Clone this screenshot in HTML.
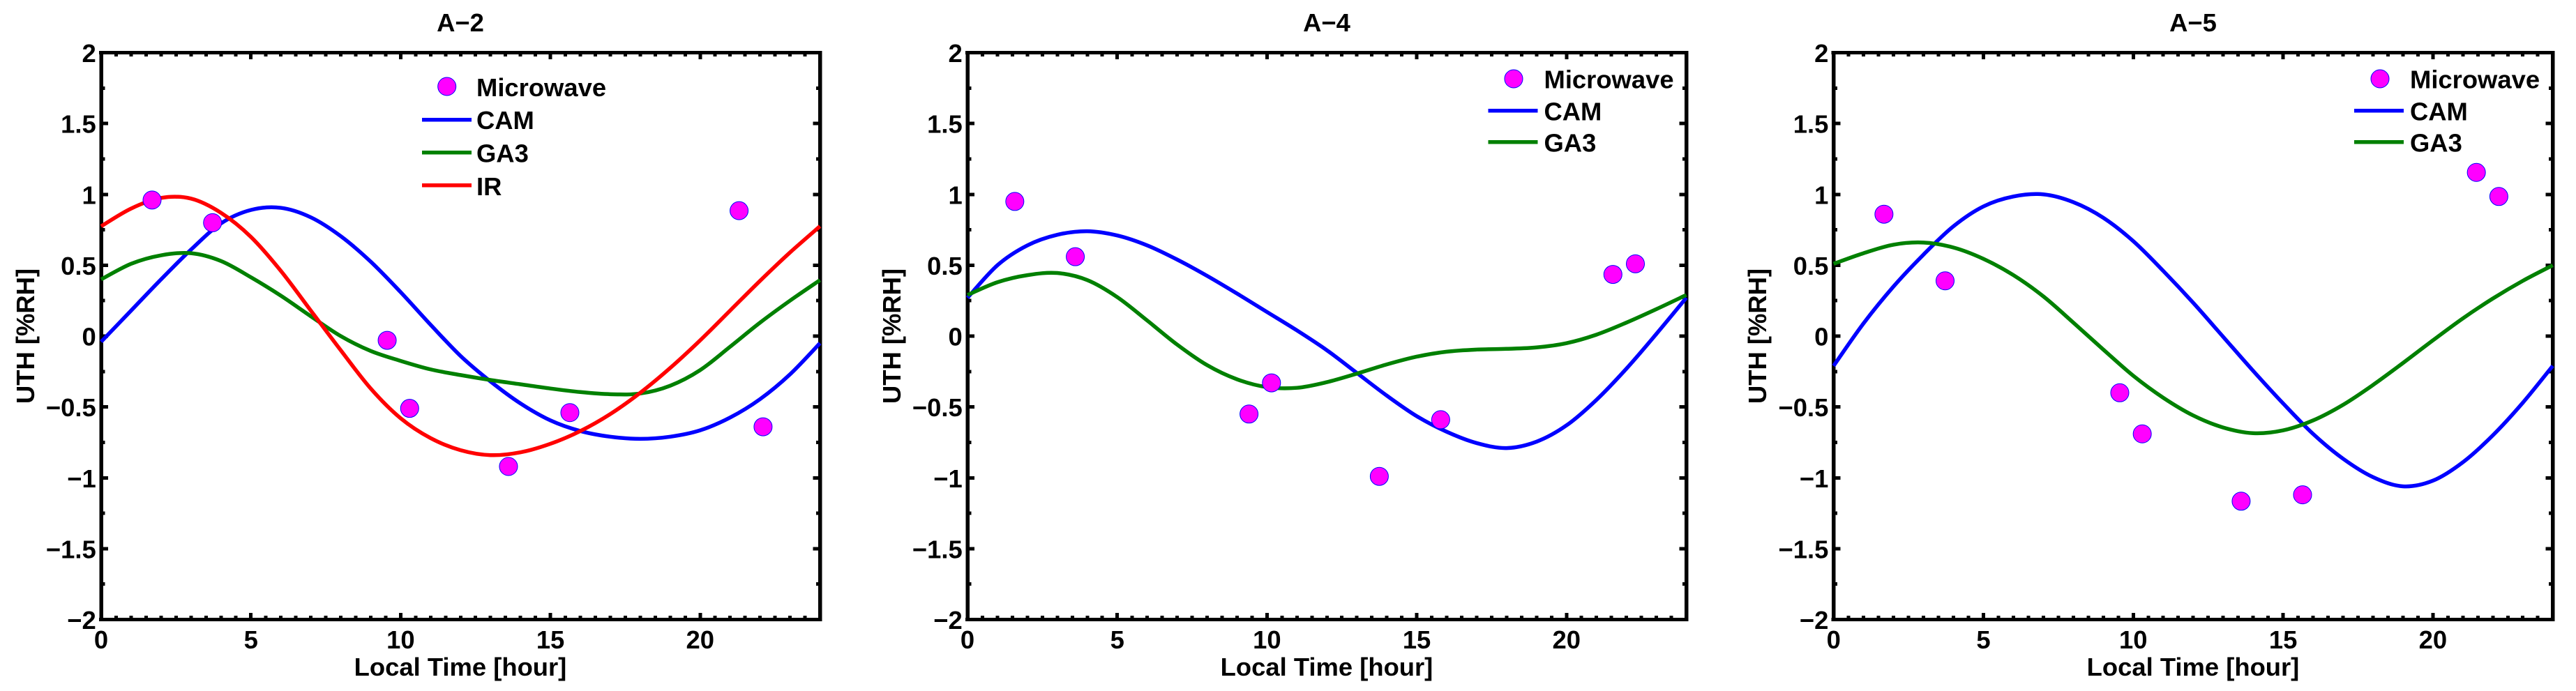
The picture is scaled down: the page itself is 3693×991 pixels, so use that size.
<!DOCTYPE html>
<html lang="en">
<head>
<meta charset="utf-8">
<title>UTH diurnal cycle: A-2, A-4, A-5</title>
<style>
html,body{margin:0;padding:0;background:#fff;}
body{width:3693px;height:991px;overflow:hidden;}
svg{display:block;}
text{font-family:"Liberation Sans",Arial,sans-serif;font-weight:bold;font-size:36.4px;fill:#000;}
.mid{text-anchor:middle;}
.end{text-anchor:end;}
</style>
</head>
<body>
<svg id="figure" xmlns="http://www.w3.org/2000/svg" width="3693" height="991" viewBox="0 0 3693 991">
  <rect x="0" y="0" width="3693" height="991" fill="#fff"/>

  <g id="panel-a2">
    <text class="mid" x="660" y="45">A−2</text>
    <text class="mid" x="660" y="969">Local Time [hour]</text>
    <text class="mid" transform="translate(49 482) rotate(-90)">UTH [%RH]</text>
    <g class="marks"></g>
    <g>
      <circle cx="640.7" cy="124" r="13" fill="#ff00ff" stroke="#0000ff" stroke-width="1"/>
      <text x="683" y="138">Microwave</text>
      <rect x="605" y="169" width="71" height="5.5" fill="#0000ff"/>
      <text x="683" y="185">CAM</text>
      <rect x="605" y="216" width="71" height="5.5" fill="#008000"/>
      <text x="683" y="232.5">GA3</text>
      <rect x="605" y="263" width="71" height="5.5" fill="#ff0000"/>
      <text x="683" y="280">IR</text>
    </g>
  </g>

  <g id="panel-a4">
    <text class="mid" x="1902" y="45">A−4</text>
    <text class="mid" x="1902" y="969">Local Time [hour]</text>
    <text class="mid" transform="translate(1291 482) rotate(-90)">UTH [%RH]</text>
    <g class="marks"></g>
    <g>
      <circle cx="2170" cy="113" r="13" fill="#ff00ff" stroke="#0000ff" stroke-width="1"/>
      <text x="2213.5" y="126.7">Microwave</text>
      <rect x="2133.5" y="156" width="71" height="5.5" fill="#0000ff"/>
      <text x="2213.5" y="172.3">CAM</text>
      <rect x="2133.5" y="201" width="71" height="5.5" fill="#008000"/>
      <text x="2213.5" y="217.3">GA3</text>
    </g>
  </g>

  <g id="panel-a5">
    <text class="mid" x="3144" y="45">A−5</text>
    <text class="mid" x="3144" y="969">Local Time [hour]</text>
    <text class="mid" transform="translate(2532 482) rotate(-90)">UTH [%RH]</text>
    <g class="marks"></g>
    <g>
      <circle cx="3412" cy="113" r="13" fill="#ff00ff" stroke="#0000ff" stroke-width="1"/>
      <text x="3455" y="126.7">Microwave</text>
      <rect x="3375" y="156" width="71" height="5.5" fill="#0000ff"/>
      <text x="3455" y="172.3">CAM</text>
      <rect x="3375" y="201" width="71" height="5.5" fill="#008000"/>
      <text x="3455" y="217.3">GA3</text>
    </g>
  </g>
</svg>

<script>
// Axis values and labels
const yTickValues = [-2, -1.5, -1, -0.5, 0, 0.5, 1, 1.5, 2];
const yTickLabels = ['−2', '−1.5', '−1', '−0.5', '0', '0.5', '1', '1.5', '2'];
const xTickValues = [0, 5, 10, 15, 20];
const xTickLabels = ['0', '5', '10', '15', '20'];

// Shared sample hours for the curves
const hours = [0,1,2,3,4,5,6,7,8,9,10,11,12,13,14,15,16,17,18,19,20,21,22,23,24];

// A-2
const a2Cam = [-0.04,0.18,0.40,0.61,0.795,0.89,0.905,0.838,0.705,0.525,0.31,0.08,-0.14,-0.32,-0.475,-0.595,-0.67,-0.71,-0.725,-0.71,-0.665,-0.575,-0.445,-0.27,-0.05];
const a2Ga3 = [0.40,0.51,0.57,0.585,0.53,0.415,0.285,0.14,0.0,-0.105,-0.175,-0.235,-0.275,-0.31,-0.34,-0.37,-0.395,-0.41,-0.405,-0.35,-0.24,-0.075,0.095,0.25,0.395];
const a2Ir = [0.775,0.90,0.975,0.97,0.87,0.70,0.46,0.18,-0.10,-0.37,-0.58,-0.72,-0.805,-0.84,-0.82,-0.76,-0.67,-0.55,-0.40,-0.225,-0.03,0.18,0.39,0.59,0.775];
const a2MwHours = [1.7,3.72,9.55,10.3,13.6,15.65,21.3,22.1];
const a2MwValues = [0.96,0.80,-0.03,-0.51,-0.92,-0.54,0.885,-0.64];

// A-4
const a4Cam = [0.27,0.50,0.64,0.715,0.74,0.71,0.64,0.54,0.425,0.30,0.17,0.04,-0.10,-0.26,-0.42,-0.565,-0.675,-0.755,-0.79,-0.745,-0.63,-0.45,-0.23,0.015,0.27];
const a4Ga3 = [0.29,0.38,0.43,0.445,0.395,0.275,0.11,-0.06,-0.205,-0.305,-0.36,-0.365,-0.325,-0.265,-0.20,-0.145,-0.11,-0.095,-0.09,-0.08,-0.05,0.01,0.095,0.19,0.29];
const a4MwHours = [1.58,3.6,9.4,10.15,13.75,15.8,21.55,22.3];
const a4MwValues = [0.95,0.56,-0.55,-0.33,-0.99,-0.59,0.435,0.51];

// A-5
const a5Cam = [-0.21,0.09,0.35,0.575,0.775,0.915,0.985,1.0,0.945,0.835,0.67,0.46,0.235,-0.005,-0.245,-0.475,-0.69,-0.865,-0.995,-1.06,-1.02,-0.89,-0.70,-0.47,-0.21];
const a5Ga3 = [0.51,0.585,0.645,0.66,0.625,0.545,0.43,0.28,0.095,-0.095,-0.28,-0.435,-0.56,-0.645,-0.685,-0.665,-0.595,-0.485,-0.345,-0.19,-0.03,0.125,0.265,0.39,0.50];
const a5MwHours = [1.68,3.72,9.55,10.3,13.6,15.65,21.45,22.2];
const a5MwValues = [0.86,0.39,-0.40,-0.69,-1.165,-1.12,1.155,0.985];

const SVG_NS = 'http://www.w3.org/2000/svg';
const PLOT_TOP = 75.5;
const PLOT_BOTTOM = 888.5;
const X_MAX = 24;
const Y_MIN = -2;
const Y_MAX = 2;

function yScale(v) {
  return PLOT_BOTTOM - (v - Y_MIN) / (Y_MAX - Y_MIN) * (PLOT_BOTTOM - PLOT_TOP);
}

function smoothPath(px, py) {
  let d = 'M' + px[0].toFixed(2) + ' ' + py[0].toFixed(2);
  for (let i = 0; i < px.length - 1; i++) {
    const i0 = Math.max(i - 1, 0);
    const i3 = Math.min(i + 2, px.length - 1);
    const c1x = px[i] + (px[i + 1] - px[i0]) / 6;
    const c1y = py[i] + (py[i + 1] - py[i0]) / 6;
    const c2x = px[i + 1] - (px[i3] - px[i]) / 6;
    const c2y = py[i + 1] - (py[i3] - py[i]) / 6;
    d += 'C' + c1x.toFixed(2) + ' ' + c1y.toFixed(2) + ' ' + c2x.toFixed(2) + ' ' + c2y.toFixed(2) + ' ' + px[i + 1].toFixed(2) + ' ' + py[i + 1].toFixed(2);
  }
  return d;
}

function addTick(parent, x1, y1, x2, y2, name) {
  const t = document.createElementNS(SVG_NS, 'line');
  t.setAttribute('x1', x1);
  t.setAttribute('y1', y1);
  t.setAttribute('x2', x2);
  t.setAttribute('y2', y2);
  t.setAttribute('stroke', '#000');
  t.setAttribute('stroke-width', '5');
  t.setAttribute('shape-rendering', 'crispEdges');
  
  
  parent.appendChild(t);
}

function addLabel(parent, x, y, str, cls, name) {
  const t = document.createElementNS(SVG_NS, 'text');
  t.setAttribute('x', x);
  t.setAttribute('y', y);
  t.setAttribute('class', cls);
  
  
  t.textContent = str;
  parent.appendChild(t);
}

function drawPanel(id, left, right, curves, mwHours, mwValues) {
  const g = document.querySelector('#' + id + ' .marks');
  const xScale = function (h) { return left + h / X_MAX * (right - left); };

  // Minor ticks (every 0.5 h and 0.25 %RH)
  for (let k = 1; k < X_MAX * 2; k++) {
    const x = xScale(k * 0.5);
    if (k % 10 === 0) continue;
    addTick(g, x, PLOT_TOP, x, PLOT_TOP + 5.5, 'x-minor-tick-top');
    addTick(g, x, PLOT_BOTTOM, x, PLOT_BOTTOM - 5.5, 'x-minor-tick-bottom');
  }
  for (let k = 1; k < 16; k++) {
    if (k % 2 === 0) continue;
    const y = yScale(Y_MIN + k * 0.25);
    addTick(g, left, y, left + 5.5, y, 'y-minor-tick-left');
    addTick(g, right, y, right - 5.5, y, 'y-minor-tick-right');
  }

  // Major ticks and labels
  xTickValues.forEach(function (v, i) {
    const x = xScale(v);
    if (v !== 0) {
      addTick(g, x, PLOT_TOP, x, PLOT_TOP + 9.5, 'x-major-tick-top');
      addTick(g, x, PLOT_BOTTOM, x, PLOT_BOTTOM - 9.5, 'x-major-tick-bottom');
    }
    addLabel(g, x, 930, xTickLabels[i], 'mid', 'x-tick-label');
  });
  yTickValues.forEach(function (v, i) {
    const y = yScale(v);
    if (v !== Y_MIN && v !== Y_MAX) {
      addTick(g, left, y, left + 10, y, 'y-major-tick-left');
      addTick(g, right, y, right - 10, y, 'y-major-tick-right');
    }
    addLabel(g, left - 7.3, y + 13.5, yTickLabels[i], 'end', 'y-tick-label');
  });

  // Axis box
  const box = document.createElementNS(SVG_NS, 'path');
  box.setAttribute('d', 'M' + (left - 3) + ' ' + PLOT_TOP + 'H' + (right + 3) + 'M' + (left - 3) + ' ' + PLOT_BOTTOM + 'H' + (right + 3));
  box.setAttribute('stroke', '#000');
  box.setAttribute('stroke-width', '5');
  box.setAttribute('fill', 'none');
  box.setAttribute('shape-rendering', 'crispEdges');
  
  
  g.appendChild(box);
  const boxV = document.createElementNS(SVG_NS, 'path');
  boxV.setAttribute('d', 'M' + left + ' ' + (PLOT_TOP - 2.5) + 'V' + (PLOT_BOTTOM + 2.5) + 'M' + right + ' ' + (PLOT_TOP - 2.5) + 'V' + (PLOT_BOTTOM + 2.5));
  boxV.setAttribute('stroke', '#000');
  boxV.setAttribute('stroke-width', '5.5');
  boxV.setAttribute('fill', 'none');
  boxV.setAttribute('shape-rendering', 'crispEdges');
  
  
  g.appendChild(boxV);

  // Curves
  curves.forEach(function (c) {
    const p = document.createElementNS(SVG_NS, 'path');
    p.setAttribute('d', smoothPath(hours.map(xScale), c.values.map(yScale)));
    p.setAttribute('fill', 'none');
    p.setAttribute('stroke', c.color);
    p.setAttribute('stroke-width', '5.5');
    p.setAttribute('stroke-linejoin', 'round');
    
    
    g.appendChild(p);
  });

  // Microwave markers
  mwHours.forEach(function (h, i) {
    const m = document.createElementNS(SVG_NS, 'circle');
    m.setAttribute('cx', xScale(h));
    m.setAttribute('cy', yScale(mwValues[i]));
    m.setAttribute('r', '13');
    m.setAttribute('fill', '#ff00ff');
    m.setAttribute('stroke', '#0000ff');
    m.setAttribute('stroke-width', '1');
    
    
    g.appendChild(m);
  });
}

drawPanel('panel-a2', 145, 1175.5, [
  { name: 'cam', values: a2Cam, color: '#0000ff' },
  { name: 'ga3', values: a2Ga3, color: '#008000' },
  { name: 'ir', values: a2Ir, color: '#ff0000' }
], a2MwHours, a2MwValues);

drawPanel('panel-a4', 1387, 2417.5, [
  { name: 'cam', values: a4Cam, color: '#0000ff' },
  { name: 'ga3', values: a4Ga3, color: '#008000' }
], a4MwHours, a4MwValues);

drawPanel('panel-a5', 2628.7, 3659.7, [
  { name: 'cam', values: a5Cam, color: '#0000ff' },
  { name: 'ga3', values: a5Ga3, color: '#008000' }
], a5MwHours, a5MwValues);
</script>
</body>
</html>
